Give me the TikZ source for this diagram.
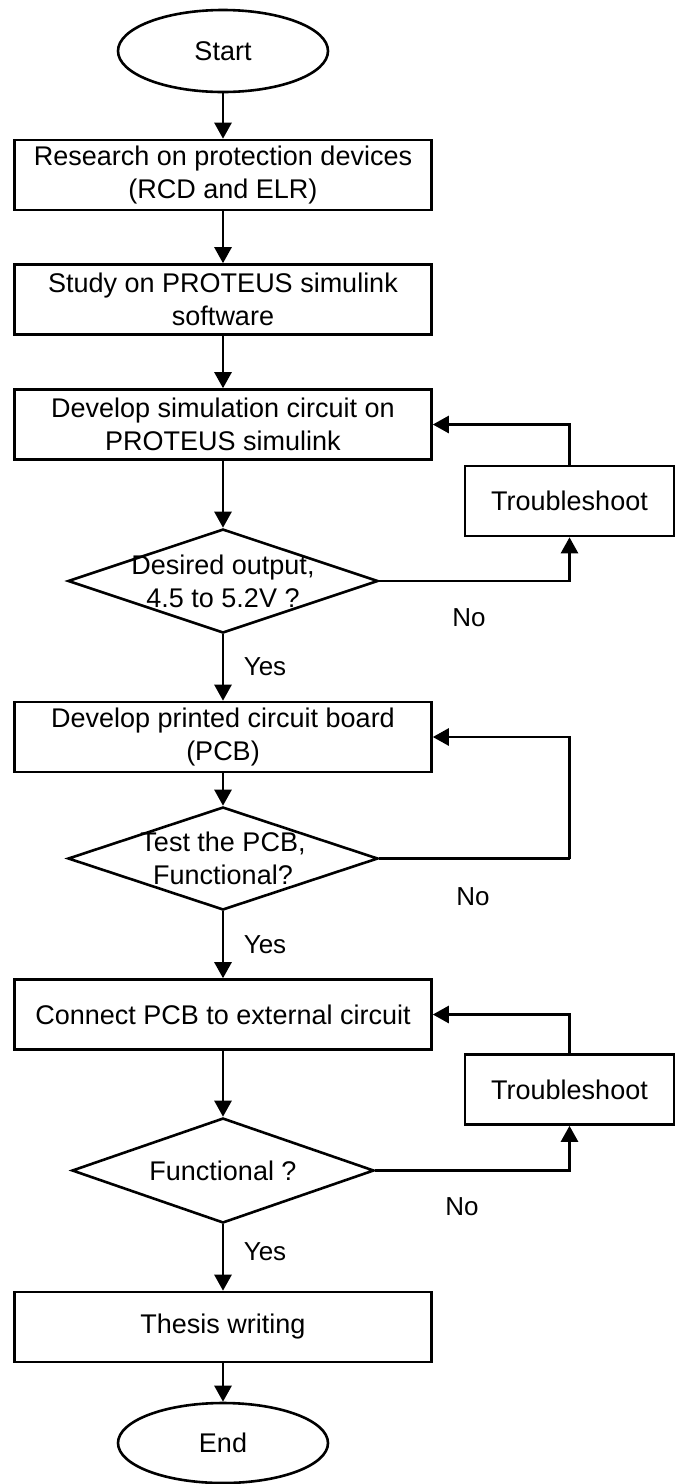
\documentclass[tikz,border=0pt]{standalone}
\usepackage{fontspec}
\setmainfont{Liberation Sans}
\usetikzlibrary{shapes.geometric,arrows.meta}
\begin{document}
\begin{tikzpicture}[x=1pt,y=-1pt,
  every node/.style={font=\fontsize{27}{33}\selectfont},
  procbox/.style={draw,line width=2.6pt,minimum width=417pt,minimum height=70pt,inner sep=0pt,align=center},
  termbox/.style={draw,ellipse,line width=2.6pt,minimum width=210pt,minimum height=82pt,inner sep=0pt},
  decbox/.style={draw,diamond,line width=2.6pt,inner sep=0pt},
  fixbox/.style={draw,line width=2.6pt,minimum width=209pt,minimum height=70pt,inner sep=0pt},
  lbl/.style={inner sep=0pt,align=center},
  arr/.style={line width=2.6pt,-{Triangle[length=16pt,width=17pt]}},
  ln/.style={line width=2.6pt}]
\useasboundingbox (0,0) rectangle (681,1484);
% main column
\node[termbox] (st) at (223,51) {Start};
\node[procbox] (b1) at (223,175) {Research on protection devices\\(RCD and ELR)};
\node[procbox] (b2) at (223,299.5) {Study on PROTEUS simulink\\software};
\node[procbox] (b3) at (223,424.5) {Develop simulation circuit on\\PROTEUS simulink};
\node[decbox,minimum width=310pt,minimum height=104pt] (d1) at (223,581) {};
\node[lbl] (d1t) at (d1.center) {Desired output,\\4.5 to 5.2V ?};
\node[procbox] (b4) at (223,737) {Develop printed circuit board\\(PCB)};
\node[decbox,minimum width=310pt,minimum height=103pt] (d2) at (223,858.5) {};
\node[lbl] (d2t) at (d2.center) {Test the PCB,\\Functional?};
\node[procbox] (b5) at (223,1014.5) {Connect PCB to external circuit};
\node[decbox,minimum width=302pt,minimum height=105pt] (d3) at (223,1170.5) {};
\node[lbl] (d3t) at (d3.center) {Functional ?};
\node[procbox] (b6) at (223,1327) {Thesis writing};
\node[termbox,minimum height=80pt] (en) at (223,1443) {End};
% troubleshoot boxes
\node[fixbox] (t1) at (569.5,501) {Troubleshoot};
\node[fixbox] (t2) at (569.5,1089.5) {Troubleshoot};
\coordinate (k2) at (569.5,858.5);
% main arrows
\draw[arr] (st.south) -- (b1.north);
\draw[arr] (b1.south) -- (b2.north);
\draw[arr] (b2.south) -- (b3.north);
\draw[arr] (b3.south) -- (d1.north);
\draw[arr] (d1.south) -- (b4.north);
\draw[arr] (b4.south) -- (d2.north);
\draw[arr] (d2.south) -- (b5.north);
\draw[arr] (b5.south) -- (d3.north);
\draw[arr] (d3.south) -- (b6.north);
\draw[arr] (b6.south) -- (en.north);
% loops
\draw[arr] (d1.east) -| (t1.south);
\draw[arr] (t1.north) |- (b3.east);
\draw[ln] (d2.east) -- (k2);
\draw[arr] (k2) |- (b4.east);
\draw[arr] (d3.east) -| (t2.south);
\draw[arr] (t2.north) |- (b5.east);
% labels
\node[lbl,font=\fontsize{26}{30}\selectfont] (y1) at (265,667) {Yes};
\node[lbl,font=\fontsize{26}{30}\selectfont] (y2) at (265,945) {Yes};
\node[lbl,font=\fontsize{26}{30}\selectfont] (y3) at (265,1252) {Yes};
\node[lbl,font=\fontsize{26}{30}\selectfont] (n1) at (469,618) {No};
\node[lbl,font=\fontsize{26}{30}\selectfont] (n2) at (473,897) {No};
\node[lbl,font=\fontsize{26}{30}\selectfont] (n3) at (462,1207) {No};
\end{tikzpicture}
\end{document}
